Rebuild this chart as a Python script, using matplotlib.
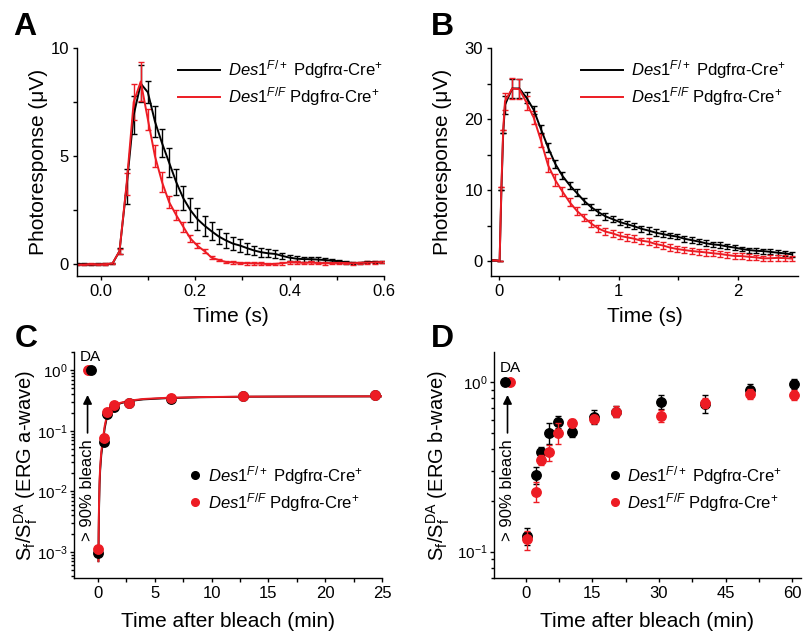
import numpy as np
import matplotlib
matplotlib.use("Agg")
import matplotlib.pyplot as plt
from matplotlib.lines import Line2D
from matplotlib.ticker import NullFormatter, LogLocator, FixedLocator

plt.rcParams['font.family'] = ['Liberation Sans', 'DejaVu Sans']
plt.rcParams['mathtext.fontset'] = 'custom'
plt.rcParams['mathtext.rm'] = 'Liberation Sans'
plt.rcParams['mathtext.it'] = 'Liberation Sans:italic'
plt.rcParams['mathtext.bf'] = 'Liberation Sans:bold'

RED = '#ed1c24'
BLACK = '#000000'

lab_het = r'$\mathit{Des1}^{\mathit{F/+}}$ Pdgfrα-Cre$^{+}$'
lab_ko = r'$\mathit{Des1}^{\mathit{F/F}}$ Pdgfrα-Cre$^{+}$'

# ---- panel A: dim flash responses (s, uV) ----
tA = [-0.05, -0.035, -0.02, -0.005, 0.01, 0.025, 0.04, 0.055, 0.07, 0.085,
      0.10, 0.115, 0.13, 0.145, 0.16, 0.175, 0.19, 0.205, 0.22, 0.235,
      0.25, 0.265, 0.28, 0.295, 0.31, 0.325, 0.34, 0.355, 0.37, 0.385,
      0.40, 0.415, 0.43, 0.445, 0.46, 0.475, 0.49, 0.505, 0.52, 0.535,
      0.55, 0.565, 0.58, 0.595]
hetA = [0.0, 0.0, -0.02, 0.0, 0.0, 0.02, 0.6, 3.6, 6.9, 8.35,
        7.95, 6.6, 5.6, 4.7, 3.8, 3.05, 2.5, 2.08, 1.78, 1.52,
        1.28, 1.1, 0.95, 0.86, 0.74, 0.63, 0.55, 0.5, 0.47, 0.38,
        0.3, 0.25, 0.23, 0.23, 0.21, 0.19, 0.16, 0.13, 0.08, 0.05,
        0.05, 0.1, 0.1, 0.09]
hetA_err = [0.03, 0.03, 0.03, 0.03, 0.03, 0.03, 0.15, 0.8, 0.9, 0.85,
            0.5, 0.7, 0.65, 0.65, 0.62, 0.55, 0.55, 0.5, 0.46, 0.42,
            0.36, 0.34, 0.3, 0.3, 0.25, 0.22, 0.2, 0.18, 0.17, 0.15,
            0.14, 0.12, 0.12, 0.1, 0.1, 0.1, 0.08, 0.08, 0.07, 0.06,
            0.06, 0.06, 0.05, 0.05]
koA = [-0.03, -0.02, 0.0, -0.01, 0.0, 0.03, 0.6, 3.7, 7.5, 8.45,
       6.7, 5.0, 3.8, 2.87, 2.27, 1.73, 1.19, 0.85, 0.6, 0.3,
       0.19, 0.1, 0.08, 0.05, 0.04, 0.03, 0.02, 0.0, 0.01, 0.04,
       0.08, 0.07, 0.06, 0.07, 0.05, 0.03, 0.05, 0.06, 0.05, 0.04,
       0.06, 0.07, 0.08, 0.1]
koA_err = [0.03, 0.03, 0.03, 0.03, 0.03, 0.03, 0.12, 0.5, 0.85, 0.9,
           0.5, 0.5, 0.46, 0.27, 0.23, 0.23, 0.15, 0.12, 0.1, 0.08,
           0.06, 0.06, 0.06, 0.06, 0.06, 0.06, 0.06, 0.06, 0.06, 0.06,
           0.06, 0.06, 0.06, 0.06, 0.06, 0.06, 0.06, 0.06, 0.06, 0.06,
           0.06, 0.06, 0.06, 0.06]

# ---- panel B: saturating responses ----
tB = [-0.06, -0.03, 0.005, 0.02, 0.035,
      0.05, 0.11, 0.17, 0.23, 0.29, 0.35, 0.41, 0.47, 0.53, 0.59,
      0.65, 0.71, 0.77, 0.83, 0.89, 0.95, 1.01, 1.07, 1.13, 1.19,
      1.25, 1.31, 1.37, 1.43, 1.49, 1.55, 1.61, 1.67, 1.73, 1.79,
      1.85, 1.91, 1.97, 2.03, 2.09, 2.15, 2.21, 2.27, 2.33, 2.39, 2.45]
hetB = [0.1, 0.1, 0.0, 10.0, 18.0,
        22.0, 24.3, 24.3, 23.0, 21.3, 18.6, 16.0, 13.7, 12.0, 10.7,
        9.6, 8.5, 7.6, 6.9, 6.3, 5.9, 5.5, 5.2, 4.9, 4.55,
        4.3, 4.0, 3.8, 3.6, 3.45, 3.15, 2.95, 2.75, 2.5, 2.35,
        2.25, 2.05, 1.9, 1.7, 1.55, 1.45, 1.4, 1.3, 1.18, 1.08, 0.95]
hetB_err = [0, 0, 0, 0, 0,
            1.3, 1.3, 1.3, 0.8, 0.6, 0.6, 0.6, 0.55, 0.5, 0.5,
            0.5, 0.45, 0.45, 0.45, 0.45, 0.45, 0.45, 0.45, 0.45, 0.45,
            0.45, 0.45, 0.45, 0.4, 0.4, 0.4, 0.4, 0.4, 0.4, 0.4,
            0.4, 0.4, 0.4, 0.35, 0.35, 0.35, 0.35, 0.35, 0.35, 0.35, 0.35]
koB = [0.1, 0.1, 0.0, 10.5, 18.5,
       22.5, 24.3, 24.2, 22.3, 20.2, 17.0, 13.5, 11.4, 9.8, 8.3,
       7.1, 6.15, 5.3, 4.6, 4.15, 3.9, 3.55, 3.35, 3.15, 2.87,
       2.73, 2.4, 2.2, 1.9, 1.7, 1.55, 1.42, 1.32, 1.22, 1.1,
       1.0, 0.85, 0.72, 0.7, 0.6, 0.52, 0.38, 0.4, 0.45, 0.42, 0.35]
koB_err = [0, 0, 0, 0, 0,
           1.2, 1.5, 1.4, 1.0, 0.9, 0.95, 0.95, 0.85, 0.7, 0.6,
           0.55, 0.5, 0.5, 0.5, 0.5, 0.5, 0.5, 0.5, 0.5, 0.45,
           0.45, 0.45, 0.45, 0.45, 0.45, 0.45, 0.45, 0.45, 0.45, 0.4,
           0.4, 0.4, 0.4, 0.4, 0.4, 0.4, 0.4, 0.4, 0.4, 0.4, 0.4]

# ---- panel C: a-wave recovery after bleach ----
tC_da = [-0.6, -0.85]
tC = [0.05, 0.5, 0.8, 1.45, 2.75, 6.4, 12.75, 24.4]
hetC = [0.00095, 0.066, 0.186, 0.25, 0.29, 0.34, 0.37, 0.385]
koC = [0.0011, 0.075, 0.206, 0.265, 0.29, 0.345, 0.37, 0.39]
tC_fit = [0.05, 0.07, 0.1, 0.15, 0.2, 0.3, 0.45, 0.6, 0.8, 1.0,
          1.4, 2.0, 2.8, 4.0, 6.0, 9.0, 13.0, 18.0, 25.0]
hetC_fit = [0.0007, 0.002, 0.005, 0.013, 0.022, 0.04, 0.066, 0.11, 0.17, 0.2,
            0.25, 0.285, 0.31, 0.33, 0.345, 0.358, 0.365, 0.368, 0.37]
koC_fit = [0.0007, 0.0022, 0.006, 0.015, 0.025, 0.045, 0.075, 0.12, 0.18, 0.21,
           0.26, 0.29, 0.315, 0.335, 0.35, 0.36, 0.366, 0.369, 0.371]

# ---- panel D: b-wave recovery after bleach ----
tD_da = [-4.8, -3.6]
tD = [0.3, 2.3, 3.3, 5.3, 7.3, 10.4, 15.3, 20.2, 30.4, 40.4, 50.5, 60.5]
hetD = [0.123, 0.284, 0.389, 0.499, 0.584, 0.506, 0.625, 0.668, 0.766, 0.743, 0.897, 0.973]
hetD_err = [0.014, 0.033, 0.025, 0.07, 0.05, 0.03, 0.06, 0.05, 0.07, 0.09, 0.07, 0.07]
koD = [0.118, 0.226, 0.348, 0.384, 0.503, 0.571, 0.605, 0.668, 0.634, 0.75, 0.85, 0.84]
koD_err = [0.015, 0.03, 0.025, 0.04, 0.07, 0.03, 0.03, 0.05, 0.05, 0.05, 0.06, 0.06]

W, H = 808, 633
fig = plt.figure(figsize=(W / 100, H / 100), dpi=100)


def px_axes(left, top, right, bottom):
    return fig.add_axes([left / W, 1 - bottom / H, (right - left) / W, (bottom - top) / H])


axA = px_axes(77, 48, 384, 276)
axB = px_axes(491, 48, 798, 276)
axC = px_axes(74, 352, 382, 578)
axD = px_axes(494, 352, 801, 578)

for ax in (axA, axB, axC, axD):
    ax.spines['top'].set_visible(False)
    ax.spines['right'].set_visible(False)
    for s in ('left', 'bottom'):
        ax.spines[s].set_linewidth(1.0)
    ax.tick_params(which='both', direction='out', width=1.0, labelsize=12, pad=2.5)
    ax.tick_params(which='major', length=3.2)
    ax.tick_params(which='minor', length=3.2)

eb = dict(capsize=2.2, elinewidth=1.0, capthick=1.0, lw=1.4)

# A
axA.errorbar(tA, hetA, yerr=hetA_err, color=BLACK, **eb)
axA.errorbar(tA, koA, yerr=koA_err, color=RED, **eb)
axA.set_xlim(-0.05, 0.6)
axA.set_ylim(-0.55, 10)
axA.set_xticks([0, 0.2, 0.4, 0.6])
axA.set_xticklabels(['0.0', '0.2', '0.4', '0.6'])
axA.xaxis.set_minor_locator(FixedLocator([0.1, 0.3, 0.5]))
axA.set_yticks([0, 5, 10])
axA.yaxis.set_minor_locator(FixedLocator([2.5, 7.5]))
axA.set_xlabel('Time (s)', fontsize=15)
axA.set_ylabel('Photoresponse (μV)', fontsize=15)
axA.xaxis.set_label_coords(0.5, -0.135)
axA.yaxis.set_label_coords(-0.095, 0.5)

# B
axB.errorbar(tB, hetB, yerr=hetB_err, color=BLACK, **eb)
axB.errorbar(tB, koB, yerr=koB_err, color=RED, **eb)
axB.set_xlim(-0.067, 2.5)
axB.set_ylim(-2.1, 30)
axB.set_xticks([0, 1, 2])
axB.xaxis.set_minor_locator(FixedLocator([0.5, 1.5]))
axB.set_yticks([0, 10, 20, 30])
axB.yaxis.set_minor_locator(FixedLocator([5, 15, 25]))
axB.set_xlabel('Time (s)', fontsize=15)
axB.set_ylabel('Photoresponse (μV)', fontsize=15)
axB.xaxis.set_label_coords(0.5, -0.135)
axB.yaxis.set_label_coords(-0.127, 0.5)

for ax, x0 in ((axA, 0.329), (axB, 0.293)):
    handles = [Line2D([], [], color=BLACK, lw=1.4), Line2D([], [], color=RED, lw=1.4)]
    ax.legend(handles, [lab_het, lab_ko], loc='upper left', bbox_to_anchor=(x0, 0.955),
              frameon=False, fontsize=12, handlelength=2.5, handletextpad=0.5,
              labelspacing=0.25, borderpad=0, borderaxespad=0)

ms = 6.8
# C
axC.plot(tC_fit, hetC_fit, color=BLACK, lw=1.4, zorder=2)
axC.plot(tC_fit, koC_fit, color=RED, lw=1.4, zorder=3)
axC.plot(tC, hetC, 'o', color=BLACK, ms=ms, zorder=4)
axC.plot(tC, koC, 'o', color=RED, ms=ms, zorder=5)
axC.plot(tC_da[1:], [1.0], 'o', color=RED, ms=ms, zorder=6)
axC.plot(tC_da[:1], [1.0], 'o', color=BLACK, ms=ms, zorder=7)
axC.set_yscale('log')
axC.set_xlim(-2.1, 25)
axC.set_ylim(3.7e-4, 2.0)
axC.set_xticks([0, 5, 10, 15, 20, 25])
axC.xaxis.set_minor_locator(FixedLocator([2.5, 7.5, 12.5, 17.5, 22.5]))

# D
axD.errorbar(tD, hetD, yerr=hetD_err, fmt='o', color=BLACK, ms=ms, capsize=2.2,
             elinewidth=1.0, capthick=1.0, zorder=4)
axD.errorbar(tD, koD, yerr=koD_err, fmt='o', color=RED, ms=ms, capsize=2.2,
             elinewidth=1.0, capthick=1.0, zorder=5)
axD.plot(tD_da[1:], [1.0], 'o', color=RED, ms=ms, zorder=6)
axD.plot(tD_da[:1], [1.0], 'o', color=BLACK, ms=ms, zorder=7)
axD.set_yscale('log')
axD.set_xlim(-7.2, 62)
axD.set_ylim(0.07, 1.5)
axD.set_xticks([0, 15, 30, 45, 60])
axD.xaxis.set_minor_locator(FixedLocator([7.5, 22.5, 37.5, 52.5]))

for ax, ylab, lx, da_xy in ((axC, r'S$_\mathrm{f}$/S$_\mathrm{f}^\mathrm{DA}$ (ERG a-wave)', -0.112, (0.053, 0.979)),
                            (axD, r'S$_\mathrm{f}$/S$_\mathrm{f}^\mathrm{DA}$ (ERG b-wave)', -0.137, (0.052, 0.929))):
    ax.yaxis.set_major_locator(LogLocator(base=10, numticks=10))
    ax.yaxis.set_minor_locator(LogLocator(base=10, subs=np.arange(2, 10), numticks=20))
    ax.yaxis.set_minor_formatter(NullFormatter())
    ax.tick_params(axis='y', which='major', labelsize=11, pad=1.2)
    ax.tick_params(axis='y', which='minor', length=2.2)
    ax.set_xlabel('Time after bleach (min)', fontsize=15)
    ax.set_ylabel(ylab, fontsize=14.5)
    ax.xaxis.set_label_coords(0.5, -0.15)
    ax.yaxis.set_label_coords(lx, 0.5)
    ax.text(da_xy[0], da_xy[1], 'DA', transform=ax.transAxes, ha='center', va='center', fontsize=11)
    ax.annotate('', xy=(0.044, 0.81), xytext=(0.044, 0.642), xycoords='axes fraction',
                arrowprops=dict(arrowstyle='-|>', color='black', lw=1.2, mutation_scale=13,
                                shrinkA=0, shrinkB=0))
    ax.text(0.044, 0.387, '> 90% bleach', transform=ax.transAxes, rotation=90,
            ha='center', va='center', fontsize=12)
    handles = [Line2D([], [], ls='none', marker='o', color=BLACK, ms=5.5),
               Line2D([], [], ls='none', marker='o', color=RED, ms=5.5)]
    ax.legend(handles, [lab_het, lab_ko], loc='upper left', bbox_to_anchor=(0.372, 0.505),
              frameon=False, fontsize=12, handlelength=0.8, handletextpad=0.35,
              labelspacing=0.25, borderpad=0, borderaxespad=0)

for letter, x, y in (('A', 13, 35), ('B', 431, 35), ('C', 15, 347), ('D', 431, 347)):
    fig.text(x / W, 1 - y / H, letter, fontsize=23, fontweight='bold', ha='left', va='baseline')

fig.savefig('out.png', dpi=100)
plt.close(fig)
